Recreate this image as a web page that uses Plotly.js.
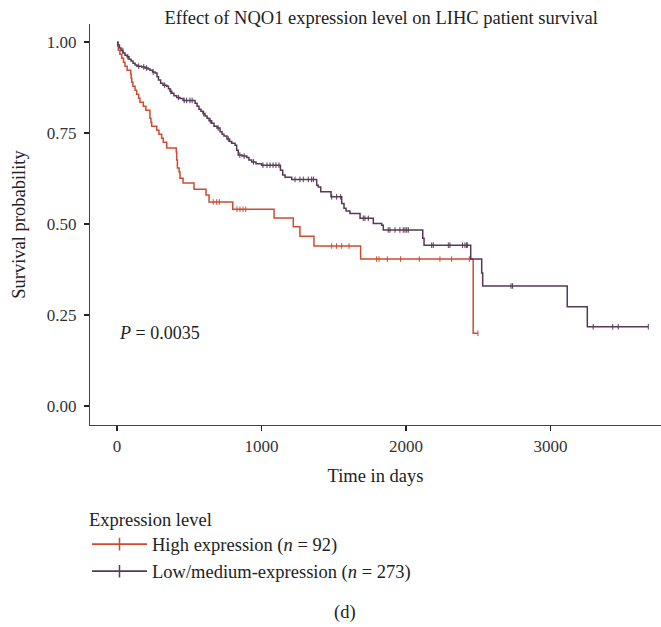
<!DOCTYPE html>
<html>
<head>
<meta charset="utf-8">
<script src="https://cdn.plot.ly/plotly-3.0.1.min.js"></script>
<style>html,body{margin:0;padding:0;background:#fff;}#chart{width:661px;height:627px;}</style>
</head>
<body>
<div id="chart"></div>
<script>
// High expression (n = 92): event times (days) and survival after each step
var highTime = [0, 5, 9, 20, 33, 45, 55, 70, 95, 98, 102, 110, 125, 136, 150, 159, 182, 200, 228, 235, 240, 275, 290, 309, 320, 344, 410, 413, 418, 430, 436, 457, 533, 616, 637, 801, 1087, 1220, 1266, 1363, 1686, 2465];
var highSurv = [1.000, 0.989, 0.978, 0.967, 0.956, 0.945, 0.934, 0.923, 0.912, 0.901, 0.890, 0.879, 0.868, 0.857, 0.846, 0.835, 0.824, 0.813, 0.791, 0.780, 0.769, 0.758, 0.747, 0.736, 0.725, 0.709, 0.698, 0.676, 0.654, 0.643, 0.626, 0.613, 0.596, 0.580, 0.561, 0.541, 0.517, 0.493, 0.467, 0.440, 0.404, 0.200];
var highEnd = 2498;
var highCensor = [666, 690, 708, 830, 851, 872, 891, 1486, 1520, 1555, 1606, 1797, 1813, 1871, 1963, 2092, 2235, 2316, 2438, 2498];

// Low/medium expression (n = 273)
var lowTime = [0, 7, 17, 28, 42, 55, 69, 83, 97, 111, 125, 138, 171, 194, 215, 228, 246, 263, 277, 287, 302, 318, 344, 356, 367, 379, 394, 413, 436, 457, 540, 554, 567, 581, 595, 609, 623, 637, 655, 671, 692, 713, 727, 740, 761, 779, 794, 817, 828, 839, 865, 898, 913, 932, 962, 1001, 1131, 1147, 1163, 1209, 1382, 1393, 1410, 1481, 1555, 1571, 1585, 1612, 1682, 1774, 1832, 1843, 2116, 2125, 2448, 2524, 2531, 3116, 3255];
var lowSurv = [1.000, 0.992, 0.984, 0.977, 0.970, 0.964, 0.960, 0.953, 0.948, 0.942, 0.937, 0.934, 0.932, 0.929, 0.926, 0.923, 0.918, 0.915, 0.905, 0.896, 0.887, 0.882, 0.879, 0.872, 0.865, 0.860, 0.853, 0.848, 0.845, 0.840, 0.832, 0.824, 0.816, 0.810, 0.804, 0.797, 0.791, 0.784, 0.777, 0.769, 0.764, 0.754, 0.747, 0.742, 0.734, 0.727, 0.722, 0.717, 0.703, 0.690, 0.687, 0.683, 0.676, 0.671, 0.666, 0.662, 0.648, 0.635, 0.629, 0.623, 0.607, 0.602, 0.589, 0.575, 0.557, 0.544, 0.536, 0.529, 0.516, 0.502, 0.497, 0.484, 0.461, 0.442, 0.404, 0.366, 0.330, 0.273, 0.218];
var lowEnd = 3677;
var lowCensor = [40, 75, 150, 185, 205, 250, 330, 372, 425, 465, 482, 505, 520, 600, 645, 700, 770, 850, 880, 945, 1010, 1038, 1059, 1080, 1100, 1121, 1232, 1266, 1289, 1324, 1347, 1359, 1486, 1520, 1548, 1704, 1716, 1739, 1877, 1889, 1924, 1958, 1981, 1993, 2005, 2016, 2178, 2189, 2293, 2304, 2392, 2408, 2420, 2424, 2727, 2738, 3296, 3431, 3469, 3677];

var groupNames = ['High expression (<i>n</i> = 92)', 'Low/medium-expression (<i>n</i> = 273)'];
var xTicks = [0, 1000, 2000, 3000];
var yTicks = [0, 0.25, 0.5, 0.75, 1];
var pText = '<i>P</i> = 0.0035';

var colHigh = '#CF4A30';
var colLow = '#573857';
var serif = 'Liberation Serif, Times New Roman, serif';

function survAt(T, S, t) {
  var s = S[0];
  for (var i = 0; i < T.length; i++) { if (T[i] <= t) s = S[i]; }
  return s;
}
function stepTrace(T, S, end, color) {
  return {x: T.concat([end]), y: S.concat([S[S.length - 1]]), type: 'scatter', mode: 'lines',
    line: {shape: 'hv', color: color, width: 1.5}, showlegend: false, hoverinfo: 'skip'};
}
function censorTrace(T, S, C, color) {
  return {x: C, y: C.map(function (c) { return survAt(T, S, c); }), type: 'scatter', mode: 'markers',
    marker: {symbol: 'line-ns-open', size: 4, color: color, line: {color: color, width: 1}},
    showlegend: false, hoverinfo: 'skip'};
}
function legendTrace(name, color) {
  return {x: [null], y: [null], type: 'scatter', mode: 'lines+markers', name: name,
    line: {color: color, width: 1.8},
    marker: {symbol: 'line-ns-open', size: 9, color: color, line: {color: color, width: 1.5}}};
}

var data = [
  stepTrace(highTime, highSurv, highEnd, colHigh),
  censorTrace(highTime, highSurv, highCensor, colHigh),
  stepTrace(lowTime, lowSurv, lowEnd, colLow),
  censorTrace(lowTime, lowSurv, lowCensor, colLow),
  legendTrace(groupNames[0], colHigh),
  legendTrace(groupNames[1], colLow)
];

var layout = {
  width: 661, height: 627,
  margin: {l: 90, r: 0, t: 24, b: 202},
  paper_bgcolor: '#fff', plot_bgcolor: '#fff',
  font: {family: serif, color: '#222', size: 17},
  title: {text: 'Effect of NQO1 expression level on LIHC patient survival',
    font: {family: serif, size: 18.5, color: '#222'},
    xref: 'paper', x: 0.51, xanchor: 'center', yref: 'container', y: 0.972, yanchor: 'middle'},
  xaxis: {range: [-187, 3765], tickvals: xTicks, ticktext: xTicks.map(String),
    showgrid: false, zeroline: false, showline: true, linecolor: '#444', linewidth: 1.2,
    ticks: 'outside', ticklen: 5, tickwidth: 1.5, tickcolor: '#222',
    tickfont: {family: serif, size: 17, color: '#333'},
    title: {text: 'Time in days', font: {family: serif, size: 18.5, color: '#222'}, standoff: 14}},
  yaxis: {range: [-0.052, 1.05], tickvals: yTicks, tickformat: '.2f',
    showgrid: false, zeroline: false, showline: true, linecolor: '#444', linewidth: 1.2,
    ticks: 'outside', ticklen: 5, tickwidth: 1.5, tickcolor: '#222', ticklabelstandoff: 4,
    tickfont: {family: serif, size: 17, color: '#333'},
    title: {text: 'Survival probability', font: {family: serif, size: 18.5, color: '#222'}, standoff: 16}},
  showlegend: true,
  legend: {orientation: 'v', x: -0.00525, xanchor: 'left', y: -0.191, yanchor: 'top', itemwidth: 55,
    title: {text: 'Expression level', side: 'top', font: {family: serif, size: 18.5, color: '#222'}},
    font: {family: serif, size: 18.5, color: '#222'}, bgcolor: 'rgba(0,0,0,0)', tracegroupgap: 0},
  annotations: [
    {x: 0, y: 0.2, xref: 'x', yref: 'y', xanchor: 'left', yanchor: 'middle', showarrow: false,
      text: pText, font: {family: serif, size: 18, color: '#222'}},
    {x: 0.447, y: -0.4685, xref: 'paper', yref: 'paper', xanchor: 'center', yanchor: 'middle', showarrow: false,
      text: '(d)', font: {family: serif, size: 18.5, color: '#222'}}
  ]
};

Plotly.newPlot('chart', data, layout, {displayModeBar: false, staticPlot: true});
</script>
</body>
</html>
